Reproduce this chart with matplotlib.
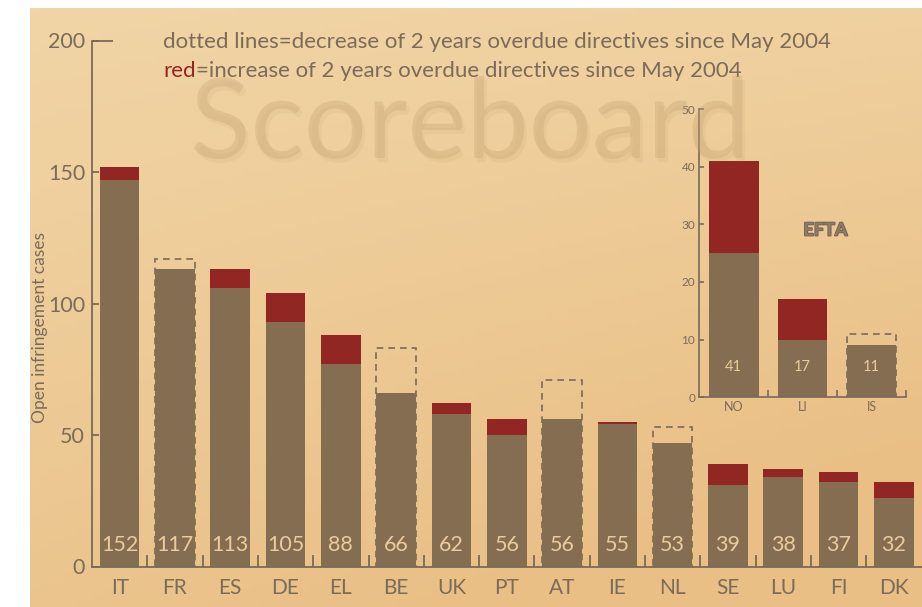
import numpy as np
import matplotlib
matplotlib.use("Agg")
import matplotlib.pyplot as plt
import matplotlib.patheffects as pe

plt.rcParams['font.family'] = ['Lato', 'DejaVu Sans']

# ---------------- data ----------------
countries = ["IT", "FR", "ES", "DE", "EL", "BE", "UK", "PT", "AT", "IE", "NL", "SE", "LU", "FI", "DK"]
base_cases = [147, 113, 106, 93, 77, 66, 58, 50, 56, 54, 47, 31, 34, 32, 26]
increase_cases = [5, 0, 7, 11, 11, 0, 4, 6, 0, 1, 0, 8, 3, 4, 6]
previous_cases = [0, 117, 0, 0, 0, 83, 0, 0, 71, 0, 53, 0, 0, 0, 0]
total_labels = [152, 117, 113, 105, 88, 66, 62, 56, 56, 55, 53, 39, 38, 37, 32]

efta_countries = ["NO", "LI", "IS"]
efta_base = [25, 10, 9]
efta_increase = [16, 7, 0]
efta_previous = [0, 0, 11]
efta_labels = [41, 17, 11]

main_yticks = [0, 50, 100, 150, 200]
efta_yticks = [0, 10, 20, 30, 40, 50]

# ---------------- style ----------------
BROWN = "#846d51"
RED = "#922622"
TXT = "#7b6b59"
LBL = "#ebcb9c"
DASH = "#7a6a58"

W, H = 922, 607
fig = plt.figure(figsize=(W / 100, H / 100), dpi=100)
fig.patch.set_facecolor("white")

# background panel with soft gradient
bg = fig.add_axes([30 / W, 0, 1 - 30 / W, 1 - 8 / H])
bg.set_axis_off()
ny, nx = 100, 100
yy, xx = np.mgrid[0:1:ny * 1j, 0:1:nx * 1j]
top = np.array([0xf1, 0xd5, 0xa6]) / 255
bot = np.array([0xe9, 0xbf, 0x85]) / 255
t = np.clip(0.75 * yy + 0.3 * xx * yy + 0.2 * xx, 0, 1)[..., None]
img = top * (1 - t) + bot * t
bg.imshow(img, aspect="auto", extent=[0, 1, 0, 1], origin="upper")
bg.set_xlim(0, 1)
bg.set_ylim(0, 1)

# watermark (faint embossed word)
wm = fig.text(470 / W, 1 - 158 / H, "Scoreboard", fontsize=80, color="#c9a777",
              alpha=0.2, ha="center", va="baseline", zorder=1,
              path_effects=[pe.withSimplePatchShadow(offset=(2, -3), shadow_rgbFace="#9c7a4e", alpha=0.08),
                            pe.Normal()])

# ---------------- main axes ----------------
ax = fig.add_axes([92 / W, 40.5 / H, 829.5 / W, (566.5 - 40.5) / H])
ax.patch.set_alpha(0)
x = np.arange(len(countries))
bw = 0.715
prev_mask = [p > 0 for p in previous_cases]
ax.bar(x[prev_mask], np.array(previous_cases)[prev_mask], width=bw, fill=False,
       edgecolor=DASH, linestyle=(0, (4, 3)), linewidth=1.2, zorder=1)
ax.bar(x, base_cases, width=bw, color=BROWN, zorder=2)
ax.bar(x, increase_cases, bottom=base_cases, width=bw, color=RED, zorder=2)
for xi, lab in zip(x, total_labels):
    ax.text(xi, 8.2, str(lab), ha="center", va="center", color=LBL, fontsize=15.5, zorder=3)

ax.set_xlim(-0.5, len(countries) - 0.5)
ax.set_ylim(0, 200)
for s in ["top", "right"]:
    ax.spines[s].set_visible(False)
for s in ["left", "bottom"]:
    ax.spines[s].set_color(DASH)
    ax.spines[s].set_linewidth(1.3)
ax.set_xticks(x, countries)
ax.set_xticks(np.arange(0.5, len(countries) - 0.5, 1), minor=True)
ax.tick_params(axis="x", which="major", length=0, pad=8, labelsize=15, labelcolor=TXT)
ax.tick_params(axis="x", which="minor", direction="in", length=9, width=1.3, color=DASH)
ax.set_yticks(main_yticks)
ax.set_yticks([200], minor=True)
ax.yaxis.remove_overlapping_locs = False
ax.tick_params(axis="y", which="major", direction="in", length=5, width=1.3, color=DASH,
               pad=5, labelsize=15.5, labelcolor=TXT)
ax.tick_params(axis="y", which="minor", direction="in", length=15, width=1.3, color=DASH)
ax.set_ylabel("Open infringement cases", fontsize=12.5, color=TXT)
ax.yaxis.set_label_coords(-0.053, 0.455)

# ---------------- EFTA inset ----------------
ix = fig.add_axes([699.3 / W, (607 - 397.3) / H, 206.7 / W, (397.3 - 109) / H])
ix.patch.set_alpha(0)
xe = np.arange(len(efta_countries))
bwe = 0.72
pm = [p > 0 for p in efta_previous]
ix.bar(xe[pm], np.array(efta_previous)[pm], width=bwe, fill=False, edgecolor=DASH,
       linestyle=(0, (4, 3)), linewidth=1.2, zorder=1)
ix.bar(xe, efta_base, width=bwe, color=BROWN, zorder=2)
ix.bar(xe, efta_increase, bottom=efta_base, width=bwe, color=RED, zorder=2)
for xi, lab in zip(xe, efta_labels):
    ix.text(xi, 5.2, str(lab), ha="center", va="center", color=LBL, fontsize=10.5, zorder=3)
ix.set_xlim(-0.5, len(efta_countries) - 0.5)
ix.set_ylim(0, 50)
for s in ["top", "right"]:
    ix.spines[s].set_visible(False)
for s in ["left", "bottom"]:
    ix.spines[s].set_color(DASH)
    ix.spines[s].set_linewidth(1.2)
ix.set_xticks(xe, efta_countries)
ix.set_xticks(np.arange(0.5, len(efta_countries), 1), minor=True)
ix.tick_params(axis="x", which="major", length=0, pad=3, labelsize=9, labelcolor=TXT)
ix.tick_params(axis="x", which="minor", direction="in", length=5, width=1.2, color=DASH)
ix.set_yticks(efta_yticks)
ix.tick_params(axis="y", direction="in", length=3.5, width=1.2, color=DASH, pad=3,
               labelsize=8.5, labelcolor=TXT)
ix.text(0.61, 0.58, "EFTA", transform=ix.transAxes, ha="center", va="center",
        fontsize=13, fontweight="bold", color="#8e7c66",
        path_effects=[pe.withStroke(linewidth=1.2, foreground="#6f5f4e")])

# ---------------- legend text ----------------
fig.canvas.draw()
r = fig.canvas.get_renderer()
l1 = fig.text(163 / W, 1 - 48.3 / H, "dotted lines=decrease of 2 years overdue directives since May 2004",
              fontsize=16, color=TXT, ha="left", va="baseline", zorder=5)
w1 = l1.get_window_extent(r).width
fs = 16 * 669 / w1
l1.set_fontsize(fs)
red_t = fig.text(163 / W, 1 - 76.7 / H, "red", fontsize=fs, color=RED, ha="left", va="baseline", zorder=5)
fig.canvas.draw()
ex = red_t.get_window_extent(r)
fig.text(ex.x1 / W, 1 - 76.7 / H, "=increase of 2 years overdue directives since May 2004",
         fontsize=fs, color=TXT, ha="left", va="baseline", zorder=5)
ww = wm.get_window_extent(r).width
wm.set_fontsize(80 * 560 / ww)

fig.savefig("out.png", dpi=100)
